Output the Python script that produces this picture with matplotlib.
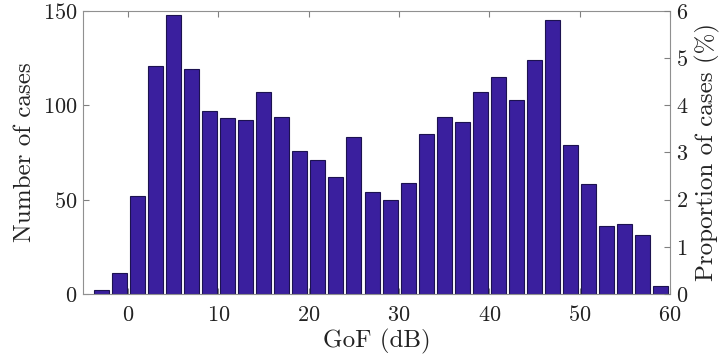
import numpy as np
import matplotlib
matplotlib.use("Agg")
import matplotlib.pyplot as plt

# histogram of GoF values, 2 dB bins (bin centres)
bin_centres = [-3, -1, 1, 3, 5, 7, 9, 11, 13, 15, 17, 19, 21, 23, 25, 27,
               29, 31, 33, 35, 37, 39, 41, 43, 45, 47, 49, 51, 53, 55, 57, 59]
counts = [2, 11, 52, 121, 148, 119, 97, 93, 92, 107, 94, 76, 71, 62, 83, 54,
          50, 59, 85, 94, 91, 107, 115, 103, 124, 145, 79, 58, 36, 37, 31, 4]
x_ticks = [0, 10, 20, 30, 40, 50, 60]
left_ticks = [0, 50, 100, 150]
right_ticks = [0, 1, 2, 3, 4, 5, 6]

total = sum(counts)

plt.rcParams["font.family"] = ["cmr10", "DejaVu Serif"]
plt.rcParams["mathtext.fontset"] = "cm"
plt.rcParams["axes.formatter.use_mathtext"] = True

fig = plt.figure(figsize=(7.22, 3.62), dpi=100)
ax = fig.add_axes([0.115, 0.188, 0.813, 0.782])

ax.bar(bin_centres, counts, width=1.66, color="#3a1f9e",
       edgecolor="#1c1250", linewidth=0.8, zorder=2)

ax.set_xlim(-5, 60)
ax.set_ylim(0, 150)
ax.set_xticks(x_ticks)
ax.set_yticks(left_ticks)
ax.tick_params(direction="in", length=4, color="#808080", labelsize=16,
               top=True, labelcolor="#222222", pad=4)
ax.tick_params(axis="x", pad=8)
for s in ax.spines.values():
    s.set_color("#909090")
    s.set_linewidth(0.8)
ax.set_xlabel("GoF (dB)", fontsize=18, color="#222222", labelpad=3)
ax.set_ylabel("Number of cases", fontsize=18, color="#222222", labelpad=5)

ax2 = ax.twinx()
ax2.set_ylim(0, 150 / total * 100)
ax2.set_yticks(right_ticks)
ax2.tick_params(direction="in", length=4, color="#808080", labelsize=16,
                labelcolor="#222222", pad=4)
for s in ax2.spines.values():
    s.set_visible(False)
ax2.set_ylabel("Proportion of cases (%)", fontsize=18, color="#222222",
               labelpad=5)

fig.savefig("out.png", dpi=100)
